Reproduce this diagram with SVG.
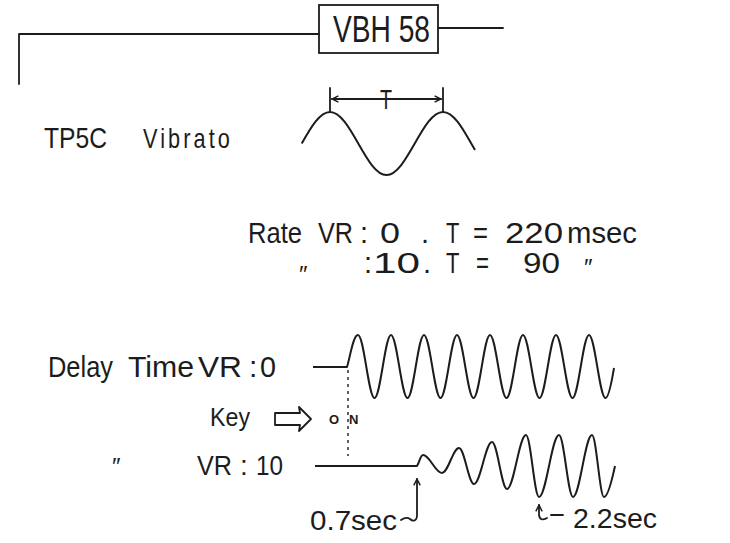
<svg xmlns="http://www.w3.org/2000/svg" width="730" height="543" viewBox="0 0 730 543">
<style>
  text { font-family: 'Liberation Sans', 'DejaVu Sans', sans-serif; fill: #1c1c1c; }
  .ln { fill: none; stroke: #1c1c1c; stroke-width: 1.8; stroke-linecap: round; stroke-linejoin: round; }
  .wave { fill: none; stroke: #1c1c1c; stroke-width: 2; stroke-linejoin: round; }
  .dot { fill: none; stroke: #1c1c1c; stroke-width: 1.4; stroke-dasharray: 3 4; }
  .arr { marker-start: url(#ah); }
</style>
<defs>
  <marker id="ah" viewBox="0 0 10 10" refX="9" refY="5" markerWidth="8" markerHeight="8" markerUnits="userSpaceOnUse" orient="auto-start-reverse">
    <path d="M1,1 L9,5 L1,9" fill="none" stroke="#1c1c1c" stroke-width="1.8"/>
  </marker>
</defs>
<rect width="730" height="543" fill="#ffffff"/>

<g id="header">
  <path class="ln" d="M19,84 V34 H319"/>
  <path class="ln" d="M438,28 H503"/>
  <rect x="319" y="5" width="119" height="48" fill="none" stroke="#1c1c1c" stroke-width="1.8"/>
  <text x="333" y="42" font-size="36" textLength="97" lengthAdjust="spacingAndGlyphs">VBH 58</text>
</g>

<g id="title">
  <text x="44" y="148" font-size="29" textLength="63" lengthAdjust="spacingAndGlyphs">TP5C</text>
  <text x="143" y="148" font-size="28" textLength="90" lengthAdjust="spacingAndGlyphs" letter-spacing="4">Vibrato</text>
</g>

<g id="sine">
  <path class="wave" d="M301.75,143.5 C310.96,127.36 319.77,112 330,112 C340.23,112 349.04,127.36 358.25,143.5 C367.46,159.64 376.27,175 386.5,175 C396.73,175 405.54,159.64 414.75,143.5 C423.96,127.36 432.77,112 443,112 C453.23,112 462.04,127.36 471.25,143.5 C472.5,145.7 473.8,147.9 475,150"/>
  <path class="ln" d="M330,88 V112 M443,88 V112"/>
  <path class="ln" d="M332,99 H441" marker-start="url(#ah)" marker-end="url(#ah)"/>
  <text x="380" y="109" font-size="28" textLength="12" lengthAdjust="spacingAndGlyphs">T</text>
</g>

<g id="rate">
  <text y="243" font-size="29">
    <tspan x="248" textLength="54" lengthAdjust="spacingAndGlyphs">Rate</tspan>
    <tspan x="318" textLength="35" lengthAdjust="spacingAndGlyphs">VR</tspan>
    <tspan x="360">:</tspan>
    <tspan x="380" textLength="20" lengthAdjust="spacingAndGlyphs">0</tspan>
    <tspan x="421">.</tspan>
    <tspan x="446" textLength="13" lengthAdjust="spacingAndGlyphs">T</tspan>
    <tspan x="473" textLength="15" lengthAdjust="spacingAndGlyphs">=</tspan>
    <tspan x="505" textLength="58" lengthAdjust="spacingAndGlyphs">220</tspan>
    <tspan x="567" textLength="70" lengthAdjust="spacingAndGlyphs">msec</tspan>
  </text>
  <text y="273" font-size="29">
    <tspan x="364">:</tspan>
    <tspan x="373" textLength="47" lengthAdjust="spacingAndGlyphs">10</tspan>
    <tspan x="423">.</tspan>
    <tspan x="446" textLength="13" lengthAdjust="spacingAndGlyphs">T</tspan>
    <tspan x="476" textLength="13" lengthAdjust="spacingAndGlyphs">=</tspan>
    <tspan x="523" textLength="37" lengthAdjust="spacingAndGlyphs">90</tspan>
  </text>
  <text x="299" y="283" font-size="24">″</text>
  <text x="584" y="276" font-size="24">″</text>
</g>

<g id="delay-vr0">
  <text y="377" font-size="30">
    <tspan x="48" textLength="65" lengthAdjust="spacingAndGlyphs">Delay</tspan>
    <tspan x="128" textLength="66" lengthAdjust="spacingAndGlyphs">Time</tspan>
    <tspan x="198" textLength="44" lengthAdjust="spacingAndGlyphs">VR</tspan>
    <tspan x="249">:</tspan>
    <tspan x="260" textLength="16" lengthAdjust="spacingAndGlyphs">0</tspan>
  </text>
  <path class="wave" d="M313,367 H347 C350,358 353,335 358,335 c5.94,0 10.56,63 16.5,63 c5.94,0 10.56,-63 16.5,-63 c5.94,0 10.56,63 16.5,63 c5.94,0 10.56,-63 16.5,-63 c5.94,0 10.56,63 16.5,63 c5.94,0 10.56,-63 16.5,-63 c5.94,0 10.56,63 16.5,63 c5.94,0 10.56,-63 16.5,-63 c5.94,0 10.56,63 16.5,63 c5.94,0 10.56,-63 16.5,-63 c5.94,0 10.56,63 16.5,63 c5.94,0 10.56,-63 16.5,-63 c5.94,0 10.56,63 16.5,63 c5.94,0 10.56,-63 16.5,-63 c5.94,0 10.56,63 16.5,63 c3,0 6,-15 8.5,-30"/>
</g>

<g id="key">
  <text x="210" y="426" font-size="25" textLength="40" lengthAdjust="spacingAndGlyphs">Key</text>
  <polygon points="275,413 300,413 299,407 311,419 299,431 300,425 275,425" fill="none" stroke="#1c1c1c" stroke-width="1.8" stroke-linejoin="round"/>
  <text y="424" font-size="13" font-weight="bold"><tspan x="329">O</tspan><tspan x="349">N</tspan></text>
</g>

<g id="delay-vr10">
  <text x="112" y="475" font-size="24">″</text>
  <text y="475" font-size="28">
    <tspan x="197" textLength="35" lengthAdjust="spacingAndGlyphs">VR</tspan>
    <tspan x="240">:</tspan>
    <tspan x="256" textLength="27" lengthAdjust="spacingAndGlyphs">10</tspan>
  </text>
  <path class="wave" d="M315,466 H417 C419.5,462 420.5,455 423,455 C429.84,455 435.16,473 442,473 C448.12,473 452.88,448 459,448 C464.4,448 468.6,484 474,484 C480.48,484 485.52,442 492,442 C497.4,442 501.6,489 507,489 C513.84,489 519.16,435 526,435 C530.68,435 534.32,497 539,497 C546.2,497 551.8,435 559,435 C564.04,435 567.96,497 573,497 C579.84,497 585.16,435 592,435 C596.32,435 599.68,497 604,497 C608,497 612,480 615,466"/>
  <text x="310" y="530" font-size="28" textLength="87" lengthAdjust="spacingAndGlyphs">0.7sec</text>
  <text x="573" y="528" font-size="28" textLength="84" lengthAdjust="spacingAndGlyphs">2.2sec</text>
</g>

<g id="connectors">
  <path class="dot" d="M348,370 V456"/>
  <path class="ln arr" d="M417,479 L417,515 C417,521 413,522 410,519 C407,517 404,518 401,520"/>
  <path class="ln arr" d="M539,505 L539,515 Q540,522 547,518"/>
  <path class="ln" d="M551,515 H563"/>
</g>
</svg>
